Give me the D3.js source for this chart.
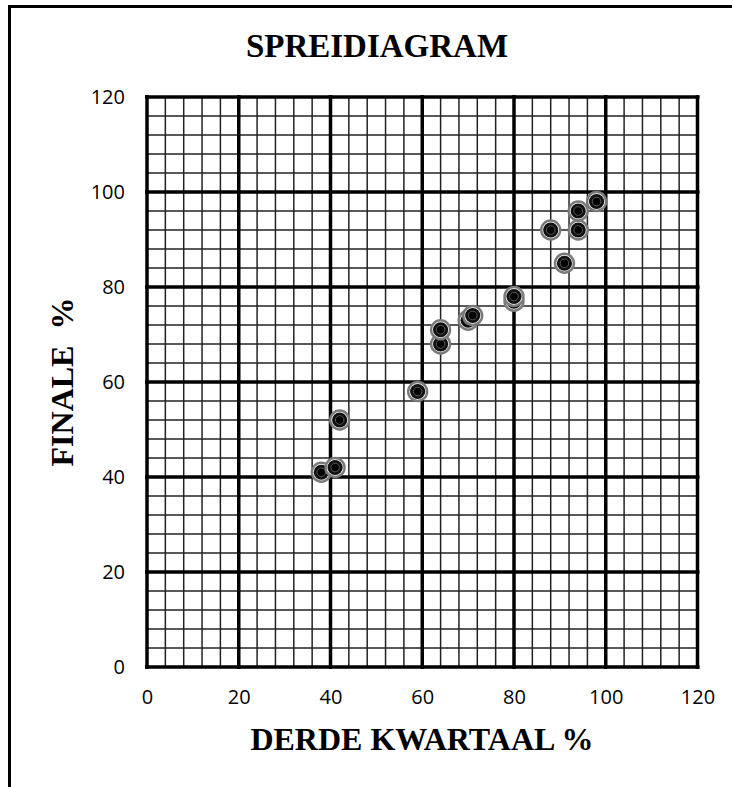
<!DOCTYPE html>
<html>
<head>
<meta charset="utf-8">
<script src="https://cdn.jsdelivr.net/npm/d3@7"></script>
<style>
  html, body { margin: 0; padding: 0; background: #fff; }
  svg { display: block; }
</style>
</head>
<body>
<script>
// ---- data ----
const title = "SPREIDIAGRAM";
const xTitle = "DERDE KWARTAAL %";
const yTitle = "FINALE\u00A0\u00A0%";
const xValues = [38, 41, 42, 59, 64, 64, 70, 71, 80, 80, 88, 91, 94, 94, 98];
const yValues = [41, 42, 52, 58, 68, 71, 73, 74, 77, 78, 92, 85, 92, 96, 98];
const tickValues = [0, 20, 40, 60, 80, 100, 120];
const minorStep = 4;

// ---- layout ----
const W = 732, H = 787;
const svg = d3.select("body").append("svg").attr("width", W).attr("height", H);

// outer frame (runs off right and bottom edges)
svg.append("rect")
  .attr("x", 9.5).attr("y", 6.5)
  .attr("width", 760).attr("height", 800)
  .attr("fill", "none").attr("stroke", "#000").attr("stroke-width", 3);

const x = d3.scaleLinear().domain([0, 120]).range([147, 697.5]);
const y = d3.scaleLinear().domain([0, 120]).range([667, 97]);

const minorTicks = d3.range(0, 120 + 0.001, minorStep);

const g = svg.append("g");
// minor grid
g.selectAll("line.vmin").data(minorTicks).join("line")
  .attr("x1", d => x(d)).attr("x2", d => x(d))
  .attr("y1", y(0)).attr("y2", y(120))
  .attr("stroke", "#222").attr("stroke-width", 1.5);
g.selectAll("line.hmin").data(minorTicks).join("line")
  .attr("y1", d => y(d)).attr("y2", d => y(d))
  .attr("x1", x(0)).attr("x2", x(120))
  .attr("stroke", "#222").attr("stroke-width", 1.5);
// major grid
g.selectAll("line.vmaj").data(tickValues).join("line")
  .attr("x1", d => x(d)).attr("x2", d => x(d))
  .attr("y1", y(0) + 2).attr("y2", y(120) - 2)
  .attr("stroke", "#000").attr("stroke-width", 3.5);
g.selectAll("line.hmaj").data(tickValues).join("line")
  .attr("y1", d => y(d)).attr("y2", d => y(d))
  .attr("x1", x(0) - 2).attr("x2", x(120) + 2)
  .attr("stroke", "#000").attr("stroke-width", 3.5);

// axes (labels only)
const tickFont = "'Open Sans', sans-serif";
const xAxis = d3.axisBottom(x).tickValues(tickValues).tickSize(0).tickPadding(0);
const xa = svg.append("g").attr("transform", `translate(0, 690)`).call(xAxis);
xa.select(".domain").remove();
xa.selectAll("text").attr("font-family", tickFont).attr("font-size", 20).attr("fill", "#000").attr("dy", "0.71em");

const yAxis = d3.axisLeft(y).tickValues(tickValues).tickSize(0).tickPadding(0);
const ya = svg.append("g").attr("transform", `translate(125, 0)`).call(yAxis);
ya.select(".domain").remove();
ya.selectAll("text").attr("font-family", tickFont).attr("font-size", 20).attr("fill", "#000").attr("dy", "0.32em");

// titles
const serif = "'Liberation Serif', 'Times New Roman', serif";
svg.append("text").attr("x", 377).attr("y", 57)
  .attr("text-anchor", "middle").attr("font-family", serif)
  .attr("font-weight", "bold").attr("font-size", 33).text(title);
svg.append("text").attr("x", 422).attr("y", 750)
  .attr("text-anchor", "middle").attr("font-family", serif)
  .attr("font-weight", "bold").attr("font-size", 32).text(xTitle);
svg.append("text").attr("transform", "translate(73, 382) rotate(-90)")
  .attr("text-anchor", "middle").attr("font-family", serif)
  .attr("font-weight", "bold").attr("font-size", 32).text(yTitle);

// points
const pts = xValues.map((v, i) => ({ x: v, y: yValues[i] }));
const pg = svg.append("g").selectAll("g").data(pts).join("g")
  .attr("transform", d => `translate(${x(d.x)},${y(d.y)})`);
pg.append("circle").attr("r", 9.5).attr("fill", "#fff").attr("stroke", "#7a7a7a").attr("stroke-width", 2.4);
pg.append("circle").attr("r", 7.6).attr("fill", "#111");
pg.append("circle").attr("r", 4.3).attr("fill", "none").attr("stroke", "#555").attr("stroke-width", 1);
pg.append("circle").attr("r", 3.4).attr("fill", "#000");
</script>
</body>
</html>
